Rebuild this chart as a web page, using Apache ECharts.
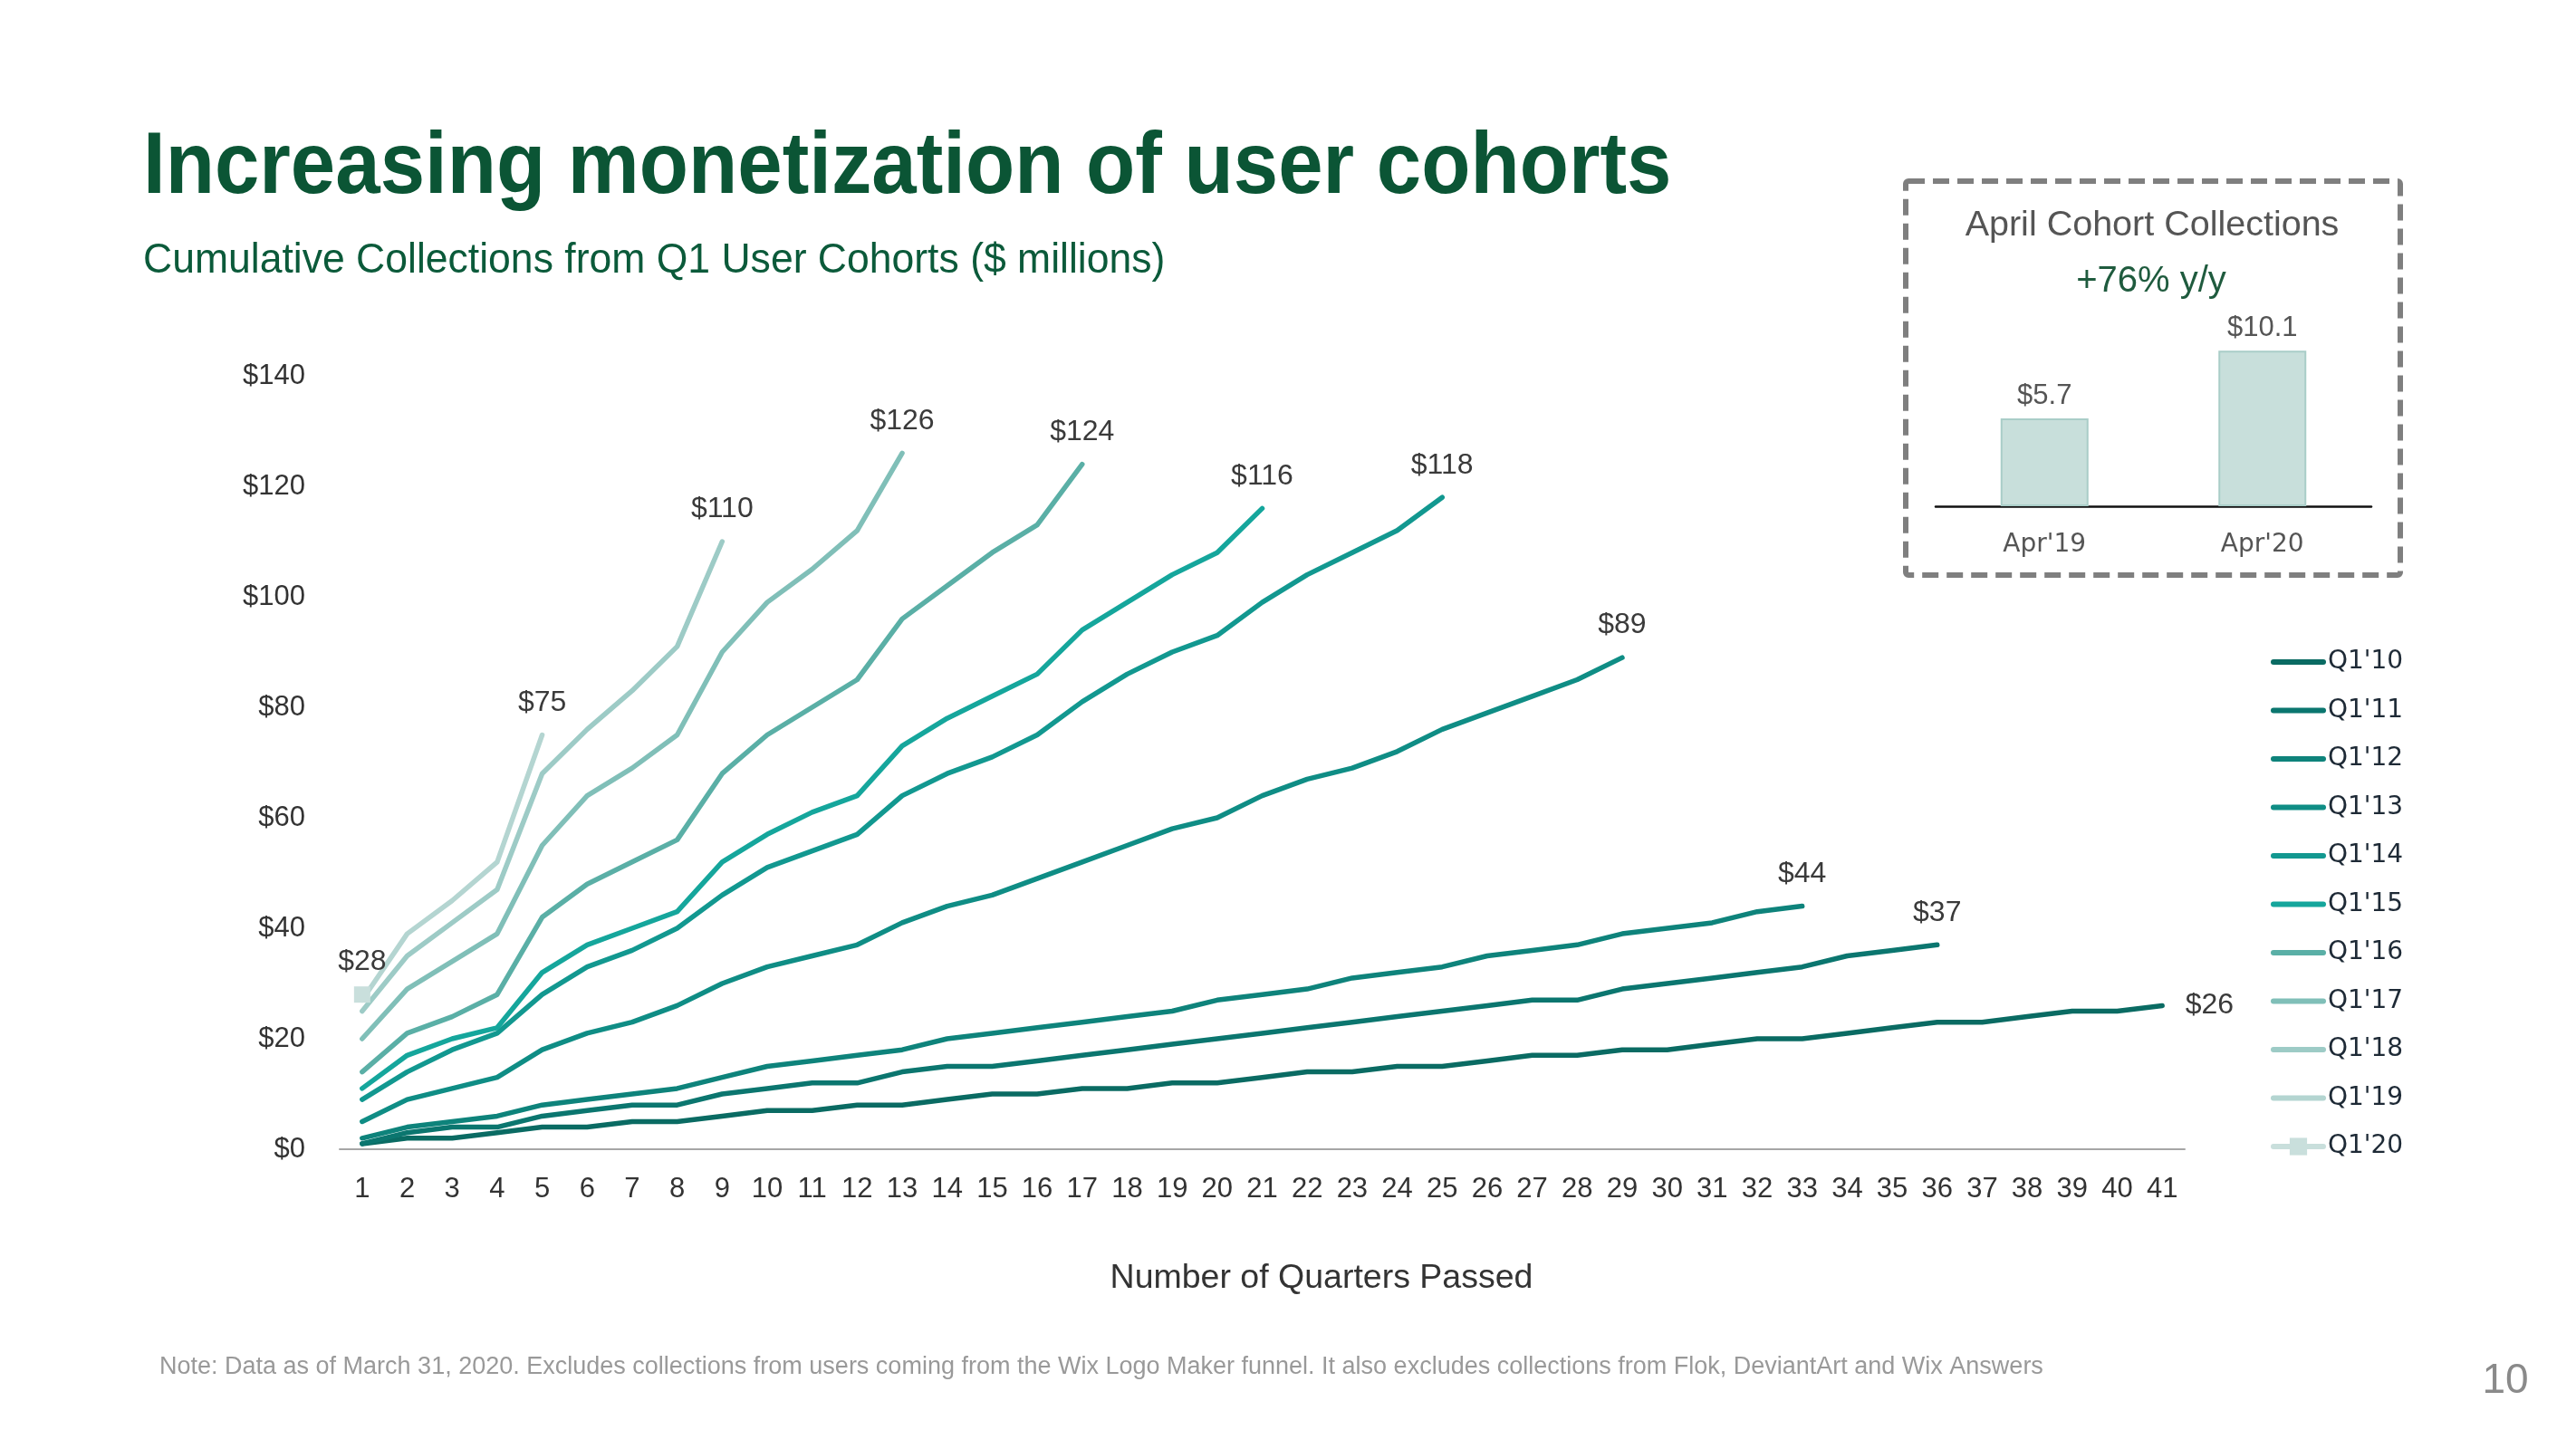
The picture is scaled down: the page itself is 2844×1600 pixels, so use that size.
<!DOCTYPE html>
<html>
<head>
<meta charset="utf-8">
<script src="https://cdn.jsdelivr.net/npm/echarts@6/dist/echarts.min.js"></script>
<style>
html,body{margin:0;padding:0;background:#ffffff;}
#chart{width:2844px;height:1600px;}
</style>
</head>
<body>
<div id="chart"></div>
<script>
// ---------- data ----------
const quarterLabels = ['1','2','3','4','5','6','7','8','9','10','11','12','13','14','15','16','17','18','19','20','21','22','23','24','25','26','27','28','29','30','31','32','33','34','35','36','37','38','39','40','41'];
const cohortNames = ["Q1'10","Q1'11","Q1'12","Q1'13","Q1'14","Q1'15","Q1'16","Q1'17","Q1'18","Q1'19","Q1'20"];

const q1_10 = [1,2,2,3,4,4,5,5,6,7,7,8,8,9,10,10,11,11,12,12,13,14,14,15,15,16,17,17,18,18,19,20,20,21,22,23,23,24,25,25,26];
const q1_11 = [1,3,4,4,6,7,8,8,10,11,12,12,14,15,15,16,17,18,19,20,21,22,23,24,25,26,27,27,29,30,31,32,33,35,36,37];
const q1_12 = [2,4,5,6,8,9,10,11,13,15,16,17,18,20,21,22,23,24,25,27,28,29,31,32,33,35,36,37,39,40,41,43,44];
const q1_13 = [5,9,11,13,18,21,23,26,30,33,35,37,41,44,46,49,52,55,58,60,64,67,69,72,76,79,82,85,89];
const q1_14 = [9,14,18,21,28,33,36,40,46,51,54,57,64,68,71,75,81,86,90,93,99,104,108,112,118];
const q1_15 = [11,17,20,22,32,37,40,43,52,57,61,64,73,78,82,86,94,99,104,108,116];
const q1_16 = [14,21,24,28,42,48,52,56,68,75,80,85,96,102,108,113,124];
const q1_17 = [20,29,34,39,55,64,69,75,90,99,105,112,126];
const q1_18 = [25,35,41,47,68,76,83,91,110];
const q1_19 = [27,39,45,52,75];
const q1_20 = [28];

const aprilCategories = ["Apr'19","Apr'20"];
const aprilValues = [5.7, 10.1];

// ---------- styles ----------
const cohortColors = ['#0a6b63','#0b766f','#0e837b','#0f8d85','#129890','#15a69c','#5aafa6','#80bfb8','#9dcbc6','#b4d5d1','#c9dfdc'];
const cohortValues = [q1_10,q1_11,q1_12,q1_13,q1_14,q1_15,q1_16,q1_17,q1_18,q1_19,q1_20];

const labelFont = {fontFamily:'Liberation Sans, Arial, sans-serif', fontSize:32, color:'#3a3a3a'};

const lineSeries = cohortValues.map(function(vals, k){
  const isLast = k === cohortValues.length - 1;
  const data = vals.map(function(v, i){
    if (i !== vals.length - 1) return v;
    if (isLast) {
      return {value: v, label: Object.assign({show:true, position:'top', distance:11, formatter:'${c}'}, labelFont)};
    }
    return {
      value: v, symbol:'circle', symbolSize:1,
      label: Object.assign({show:true, position: k === 0 ? 'right' : 'top', distance: k === 0 ? 25 : 19, formatter:'${c}'}, labelFont)
    };
  });
  return {
    type:'line',
    name: cohortNames[k],
    data: data,
    xAxisIndex:0, yAxisIndex:0,
    symbol: isLast ? 'rect' : 'none',
    symbolSize: isLast ? 18 : 1,
    showSymbol: true,
    color: cohortColors[k],
    itemStyle:{color: cohortColors[k]},
    lineStyle:{width:5.5, color: cohortColors[k], cap:'round', join:'round'},
    emphasis:{disabled:true},
    z: 2 + k
  };
});

const legendData = cohortNames.map(function(n, k){
  return k === cohortNames.length - 1 ? {name:n} : {name:n, itemStyle:{opacity:0}};
});

const chart = echarts.init(document.getElementById('chart'), null, {renderer:'canvas'});

const option = {
  animation:false,
  backgroundColor:'#ffffff',
  grid:[
    {left:375, right:432, top:415, bottom:331, containLabel:false},
    {left:2137, right:226, top:355, bottom:1041, containLabel:false}
  ],
  xAxis:[
    {
      type:'category', gridIndex:0, data: quarterLabels, boundaryGap:true,
      axisLine:{show:true, lineStyle:{color:'#a6a6a6', width:2}},
      axisTick:{show:false},
      axisLabel:{interval:0, margin:29, fontFamily:'Liberation Sans, Arial, sans-serif', fontSize:31, color:'#333333'},
      splitLine:{show:false}
    },
    {
      type:'category', gridIndex:1, data: aprilCategories, boundaryGap:true,
      axisLine:{show:true, lineStyle:{color:'#111111', width:2.5}},
      axisTick:{show:false},
      axisLabel:{margin:29, fontFamily:'DejaVu Sans, sans-serif', fontSize:28, color:'#555555'},
      splitLine:{show:false}
    }
  ],
  yAxis:[
    {
      type:'value', gridIndex:0, min:0, max:140, interval:20,
      axisLine:{show:false}, axisTick:{show:false}, splitLine:{show:false},
      axisLabel:{margin:38, formatter:'${value}', fontFamily:'Liberation Sans, Arial, sans-serif', fontSize:31, color:'#333333'}
    },
    {
      type:'value', gridIndex:1, min:0, max:12, show:false, splitLine:{show:false}
    }
  ],
  legend:{
    orient:'vertical', left:2507, top:717, padding:0,
    itemWidth:55, itemHeight:24, itemGap:25.5,
    selectedMode:false,
    data: legendData,
    lineStyle:{width:6, cap:'round'},
    textStyle:{fontFamily:'DejaVu Sans, sans-serif', fontSize:28, color:'#1e2a36'}
  },
  series: lineSeries.concat([{
    type:'bar', name:'April Cohort Collections',
    xAxisIndex:1, yAxisIndex:1,
    data: aprilValues, barWidth:97,
    itemStyle:{color:'#c8dfdb', borderColor:'#a9cdc8', borderWidth:2},
    label:{show:true, position:'top', distance:9, formatter:'${c}', fontFamily:'Liberation Sans, Arial, sans-serif', fontSize:31, color:'#555555'},
    emphasis:{disabled:true}
  }]),
  graphic:[
    {type:'text', x:158, y:187, scaleX:0.925,
      style:{text:'Increasing monetization of user cohorts', fontFamily:'Liberation Sans, Arial, sans-serif', fontWeight:'bold', fontSize:96, fill:'#0b5535', align:'left', verticalAlign:'middle'}},
    {type:'text', x:158, y:288, scaleX:0.968,
      style:{text:'Cumulative Collections from Q1 User Cohorts ($ millions)', fontFamily:'Liberation Sans, Arial, sans-serif', fontSize:46, fill:'#0b5a3a', align:'left', verticalAlign:'middle'}},
    {type:'rect', shape:{x:2104, y:200, width:546, height:435, r:3},
      style:{fill:'none', stroke:'#7f7f7f', lineWidth:6, lineDash:[18,9]}},
    {type:'text', x:2376, y:249,
      style:{text:'April Cohort Collections', fontFamily:'Liberation Sans, Arial, sans-serif', fontSize:39.5, fill:'#555555', align:'center', verticalAlign:'middle'}},
    {type:'text', x:2375, y:311,
      style:{text:'+76% y/y', fontFamily:'Liberation Sans, Arial, sans-serif', fontSize:40, fill:'#1f5b3e', align:'center', verticalAlign:'middle'}},
    {type:'text', x:1459, y:1412,
      style:{text:'Number of Quarters Passed', fontFamily:'Liberation Sans, Arial, sans-serif', fontSize:37.5, fill:'#333333', align:'center', verticalAlign:'middle'}},
    {type:'text', x:176, y:1510,
      style:{text:'Note: Data as of March 31, 2020. Excludes collections from users coming from the Wix Logo Maker funnel. It also excludes collections from Flok, DeviantArt and Wix Answers', fontFamily:'Liberation Sans, Arial, sans-serif', fontSize:27, fill:'#999999', align:'left', verticalAlign:'middle'}},
    {type:'text', x:2766, y:1525,
      style:{text:'10', fontFamily:'Liberation Sans, Arial, sans-serif', fontSize:46, fill:'#8a8a8a', align:'center', verticalAlign:'middle'}}
  ]
};
chart.setOption(option);
</script>
</body>
</html>
